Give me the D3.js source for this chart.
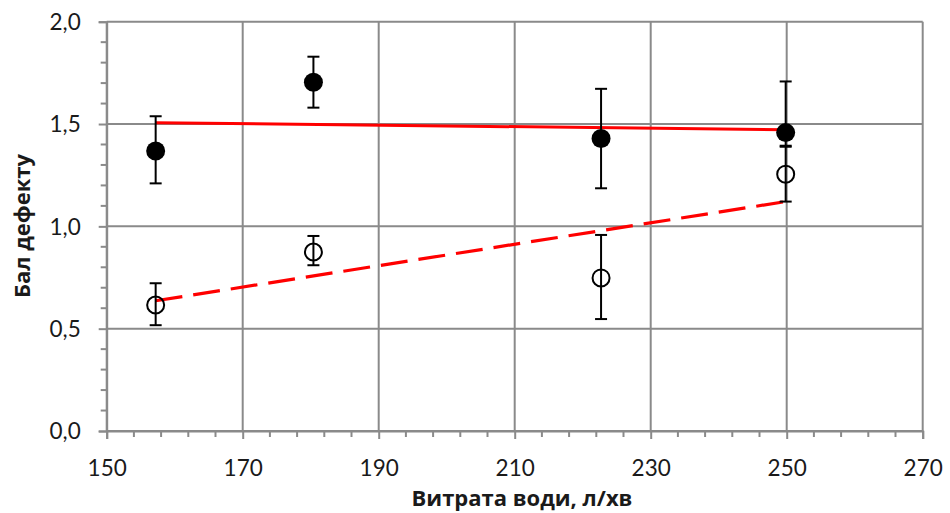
<!DOCTYPE html>
<html lang="uk">
<head>
<meta charset="UTF-8">
<title>Бал дефекту</title>
<style>
  body { margin: 0; background: #fff; }
  svg { display: block; }
  .tick text { font-family: Lato, "Open Sans", sans-serif; font-size: 22.5px; fill: #1a1a1a; }
  .axis-title { font-family: "Open Sans", Lato, sans-serif; font-size: 22px; font-weight: bold; fill: #1a1a1a; }
</style>
</head>
<body>
<svg width="950" height="513"></svg>
<script src="https://d3js.org/d3.v7.min.js"></script>
<script>
// values
const flow = [157.2, 180.4, 222.7, 249.85];
const filledVals = [1.368, 1.704, 1.429, 1.458];
const filledErrHi = [0.17, 0.125, 0.243, 0.25];
const filledErrLo = [0.158, 0.124, 0.243, 0.064];
const openVals = [0.616, 0.875, 0.748, 1.255];
const openErrHi = [0.106, 0.078, 0.21, 0.134];
const openErrLo = [0.099, 0.065, 0.201, 0.134];
const xTicks = [150, 170, 190, 210, 230, 250, 270];
const yTicks = [0, 0.5, 1.0, 1.5, 2.0];

const svg = d3.select("svg");
const plotL = 106.7, plotR = 922.7, plotT = 21.7, plotB = 431;

const x = d3.scaleLinear().domain([150, 270]).range([plotL, plotR]);
const y = d3.scaleLinear().domain([0, 2]).range([plotB, plotT]);
const fmt = v => d3.format(".1f")(v).replace(".", ",");
const grid = "#8a8a8a";

// gridlines
svg.append("g").selectAll("line").data(yTicks).enter().append("line")
  .attr("x1", plotL).attr("x2", plotR)
  .attr("y1", d => y(d)).attr("y2", d => y(d))
  .attr("stroke", grid).attr("stroke-width", 2);
svg.append("g").selectAll("line").data(xTicks).enter().append("line")
  .attr("y1", plotT).attr("y2", plotB)
  .attr("x1", d => x(d)).attr("x2", d => x(d))
  .attr("stroke", grid).attr("stroke-width", 2);

// minor ticks
const xMinor = d3.range(150, 270.1, 4).filter(v => (v - 150) % 20 !== 0);
svg.append("g").selectAll("line").data(xMinor).enter().append("line")
  .attr("x1", d => x(d)).attr("x2", d => x(d))
  .attr("y1", plotB).attr("y2", plotB + 6)
  .attr("stroke", grid).attr("stroke-width", 2);
const yMinor = d3.range(0, 2.01, 0.1).filter(v => Math.round(v * 10) % 5 !== 0);
svg.append("g").selectAll("line").data(yMinor).enter().append("line")
  .attr("y1", d => y(d)).attr("y2", d => y(d))
  .attr("x1", plotL - 6).attr("x2", plotL)
  .attr("stroke", grid).attr("stroke-width", 2);

// axes
const xAxis = svg.append("g").attr("transform", `translate(0,${plotB})`)
  .call(d3.axisBottom(x).tickValues(xTicks).tickSize(8).tickPadding(21));
const yAxis = svg.append("g").attr("transform", `translate(${plotL},0)`)
  .call(d3.axisLeft(y).tickValues(yTicks).tickFormat(fmt).tickSize(8).tickPadding(18));
[xAxis, yAxis].forEach(a => {
  a.select(".domain").attr("stroke", grid).attr("stroke-width", 2);
  a.selectAll(".tick line").attr("stroke", grid).attr("stroke-width", 2);
});
yAxis.selectAll(".tick text").attr("dy", "0.35em");

// linear trend lines (least squares, like a spreadsheet trendline)
function trend(xs, ys) {
  const mx = d3.mean(xs), my = d3.mean(ys);
  const b = d3.sum(xs, (v, i) => (v - mx) * (ys[i] - my)) / d3.sum(xs, v => (v - mx) ** 2);
  const x0 = d3.min(xs), x1 = d3.max(xs);
  return [[x0, my + b * (x0 - mx)], [x1, my + b * (x1 - mx)]];
}
const line = d3.line().x(d => x(d[0])).y(d => y(d[1]));
svg.append("path").attr("d", line(trend(flow, filledVals)))
  .attr("stroke", "#ff0000").attr("stroke-width", 3).attr("fill", "none");
svg.append("path").attr("d", line(trend(flow, openVals)))
  .attr("stroke", "#ff0000").attr("stroke-width", 3.2).attr("fill", "none")
  .attr("stroke-dasharray", "27,11");

// points with error bars
function series(vals, hi, lo, filled) {
  const data = flow.map((f, i) => ({ f, v: vals[i], hi: vals[i] + hi[i], lo: vals[i] - lo[i] }));
  const g = svg.append("g");
  g.selectAll("circle").data(data).enter().append("circle")
    .attr("cx", d => x(d.f)).attr("cy", d => y(d.v))
    .attr("r", filled ? 9.5 : 8.5)
    .attr("fill", filled ? "#000" : "none")
    .attr("stroke", "#000").attr("stroke-width", filled ? 0 : 2);
  const eb = g.selectAll("g.eb").data(data).enter().append("g").attr("stroke", "#000").attr("stroke-width", 2);
  eb.append("line").attr("x1", d => x(d.f)).attr("x2", d => x(d.f))
    .attr("y1", d => y(d.hi)).attr("y2", d => y(d.lo));
  eb.append("line").attr("x1", d => x(d.f) - 6).attr("x2", d => x(d.f) + 6)
    .attr("y1", d => y(d.hi)).attr("y2", d => y(d.hi));
  eb.append("line").attr("x1", d => x(d.f) - 6).attr("x2", d => x(d.f) + 6)
    .attr("y1", d => y(d.lo)).attr("y2", d => y(d.lo));
}
series(filledVals, filledErrHi, filledErrLo, true);
series(openVals, openErrHi, openErrLo, false);

// axis titles
svg.append("text").attr("class", "axis-title")
  .attr("x", 522).attr("y", 506).attr("text-anchor", "middle")
  .text("Витрата води, л/хв");
svg.append("text").attr("class", "axis-title")
  .attr("transform", "translate(30,226) rotate(-90)").attr("text-anchor", "middle")
  .text("Бал дефекту");
</script>
</body>
</html>
